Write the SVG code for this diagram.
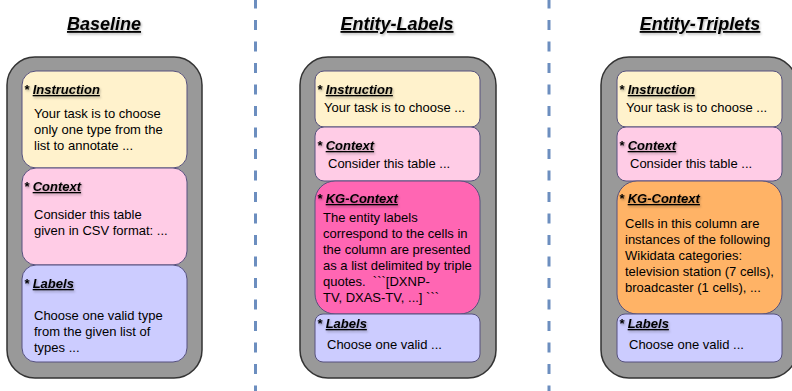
<svg xmlns="http://www.w3.org/2000/svg" width="792" height="391" viewBox="0 0 792 391">
<defs>
<filter id="sh" x="-10%" y="-30%" width="130%" height="180%">
<feDropShadow dx="1" dy="1.5" stdDeviation="0.8" flood-color="#000" flood-opacity="0.3"/>
</filter>
<style>
.outer{fill:#999999;stroke:#333333;stroke-width:1.5}
.inner{stroke:#56517e;stroke-width:1}
.ins{fill:#fff2cc}
.ctx{fill:#ffcce6}
.lab{fill:#ccccff}
.kgp{fill:#ff66b3}
.kgo{fill:#ffb366}
.title{font-family:"Liberation Sans",Arial,sans-serif;font-size:18px;font-weight:bold;font-style:italic;text-anchor:middle;fill:#000;text-decoration:underline}
.hd{font-family:"Liberation Sans",Arial,sans-serif;font-size:13px;font-weight:bold;font-style:italic;fill:#000}
.u{text-decoration:underline}
.body{font-family:"Liberation Sans",Arial,sans-serif;font-size:13px;fill:#000}
.sep{stroke:#6c8ebf;stroke-width:3;stroke-dasharray:10 11.5}
</style>
</defs>
<g id="separators">
<line class="sep" x1="255.5" y1="-1.5" x2="255.5" y2="395"/>
<line class="sep" x1="549" y1="-1.5" x2="549" y2="395"/>
</g>
<g id="baseline">
<text class="title" x="104" y="30" filter="url(#sh)">Baseline</text>
<rect class="outer" x="7" y="57" width="195" height="321" rx="28"/>
<g id="baseline-instruction">
<rect class="inner ins" x="22" y="71" width="165" height="97" rx="14"/>
<text class="hd" x="24" y="94" filter="url(#sh)">* <tspan class="u">Instruction</tspan></text>
<text class="body" x="34" y="118">Your task is to choose</text>
<text class="body" x="34" y="134">only one type from the</text>
<text class="body" x="34" y="150">list to annotate ...</text>
</g>
<g id="baseline-context">
<rect class="inner ctx" x="22" y="168" width="165" height="97" rx="14"/>
<text class="hd" x="24" y="191" filter="url(#sh)">* <tspan class="u">Context</tspan></text>
<text class="body" x="34" y="219">Consider this table</text>
<text class="body" x="34" y="235">given in CSV format: ...</text>
</g>
<g id="baseline-labels">
<rect class="inner lab" x="22" y="265" width="165" height="97" rx="14"/>
<text class="hd" x="24" y="288" filter="url(#sh)">* <tspan class="u">Labels</tspan></text>
<text class="body" x="34" y="320">Choose one valid type</text>
<text class="body" x="34" y="336">from the given list of</text>
<text class="body" x="34" y="352">types ...</text>
</g>
</g>
<g id="entity-labels">
<text class="title" x="397" y="30" filter="url(#sh)">Entity-Labels</text>
<rect class="outer" x="300" y="57" width="196" height="321" rx="28"/>
<g id="el-instruction">
<rect class="inner ins" x="315" y="71" width="165" height="56" rx="9"/>
<text class="hd" x="317" y="94" filter="url(#sh)">* <tspan class="u">Instruction</tspan></text>
<text class="body" x="324" y="112">Your task is to choose ...</text>
</g>
<g id="el-context">
<rect class="inner ctx" x="315" y="127" width="165" height="54" rx="9"/>
<text class="hd" x="317" y="150" filter="url(#sh)">* <tspan class="u">Context</tspan></text>
<text class="body" x="328" y="168">Consider this table ...</text>
</g>
<g id="el-kg-context">
<rect class="inner kgp" x="315" y="181" width="165" height="133" rx="20"/>
<text class="hd" x="317" y="203" filter="url(#sh)">* <tspan class="u">KG-Context</tspan></text>
<text class="body" x="323" y="222">The entity labels</text>
<text class="body" x="323" y="238">correspond to the cells in</text>
<text class="body" x="323" y="254">the column are presented</text>
<text class="body" x="323" y="270">as a list delimited by triple</text>
<text class="body" x="323" y="286" xml:space="preserve">quotes.  ```[DXNP-</text>
<text class="body" x="323" y="302">TV, DXAS-TV, ...] ```</text>
</g>
<g id="el-labels">
<rect class="inner lab" x="315" y="314" width="165" height="48" rx="8"/>
<text class="hd" x="317" y="328" filter="url(#sh)">* <tspan class="u">Labels</tspan></text>
<text class="body" x="327" y="349">Choose one valid ...</text>
</g>
</g>
<g id="entity-triplets">
<text class="title" x="700" y="30" filter="url(#sh)">Entity-Triplets</text>
<rect class="outer" x="601" y="57" width="196" height="321" rx="28"/>
<g id="et-instruction">
<rect class="inner ins" x="617" y="71" width="165" height="56" rx="9"/>
<text class="hd" x="619" y="94" filter="url(#sh)">* <tspan class="u">Instruction</tspan></text>
<text class="body" x="626" y="112">Your task is to choose ...</text>
</g>
<g id="et-context">
<rect class="inner ctx" x="617" y="127" width="165" height="54" rx="9"/>
<text class="hd" x="619" y="150" filter="url(#sh)">* <tspan class="u">Context</tspan></text>
<text class="body" x="630" y="168">Consider this table ...</text>
</g>
<g id="et-kg-context">
<rect class="inner kgo" x="617" y="181" width="165" height="133" rx="20"/>
<text class="hd" x="619" y="203" filter="url(#sh)">* <tspan class="u">KG-Context</tspan></text>
<text class="body" x="625" y="228">Cells in this column are</text>
<text class="body" x="625" y="244">instances of the following</text>
<text class="body" x="625" y="260">Wikidata categories:</text>
<text class="body" x="625" y="276">television station (7 cells),</text>
<text class="body" x="625" y="292">broadcaster (1 cells), ...</text>
</g>
<g id="et-labels">
<rect class="inner lab" x="617" y="314" width="165" height="48" rx="8"/>
<text class="hd" x="619" y="328" filter="url(#sh)">* <tspan class="u">Labels</tspan></text>
<text class="body" x="629" y="349">Choose one valid ...</text>
</g>
</g>
</svg>
